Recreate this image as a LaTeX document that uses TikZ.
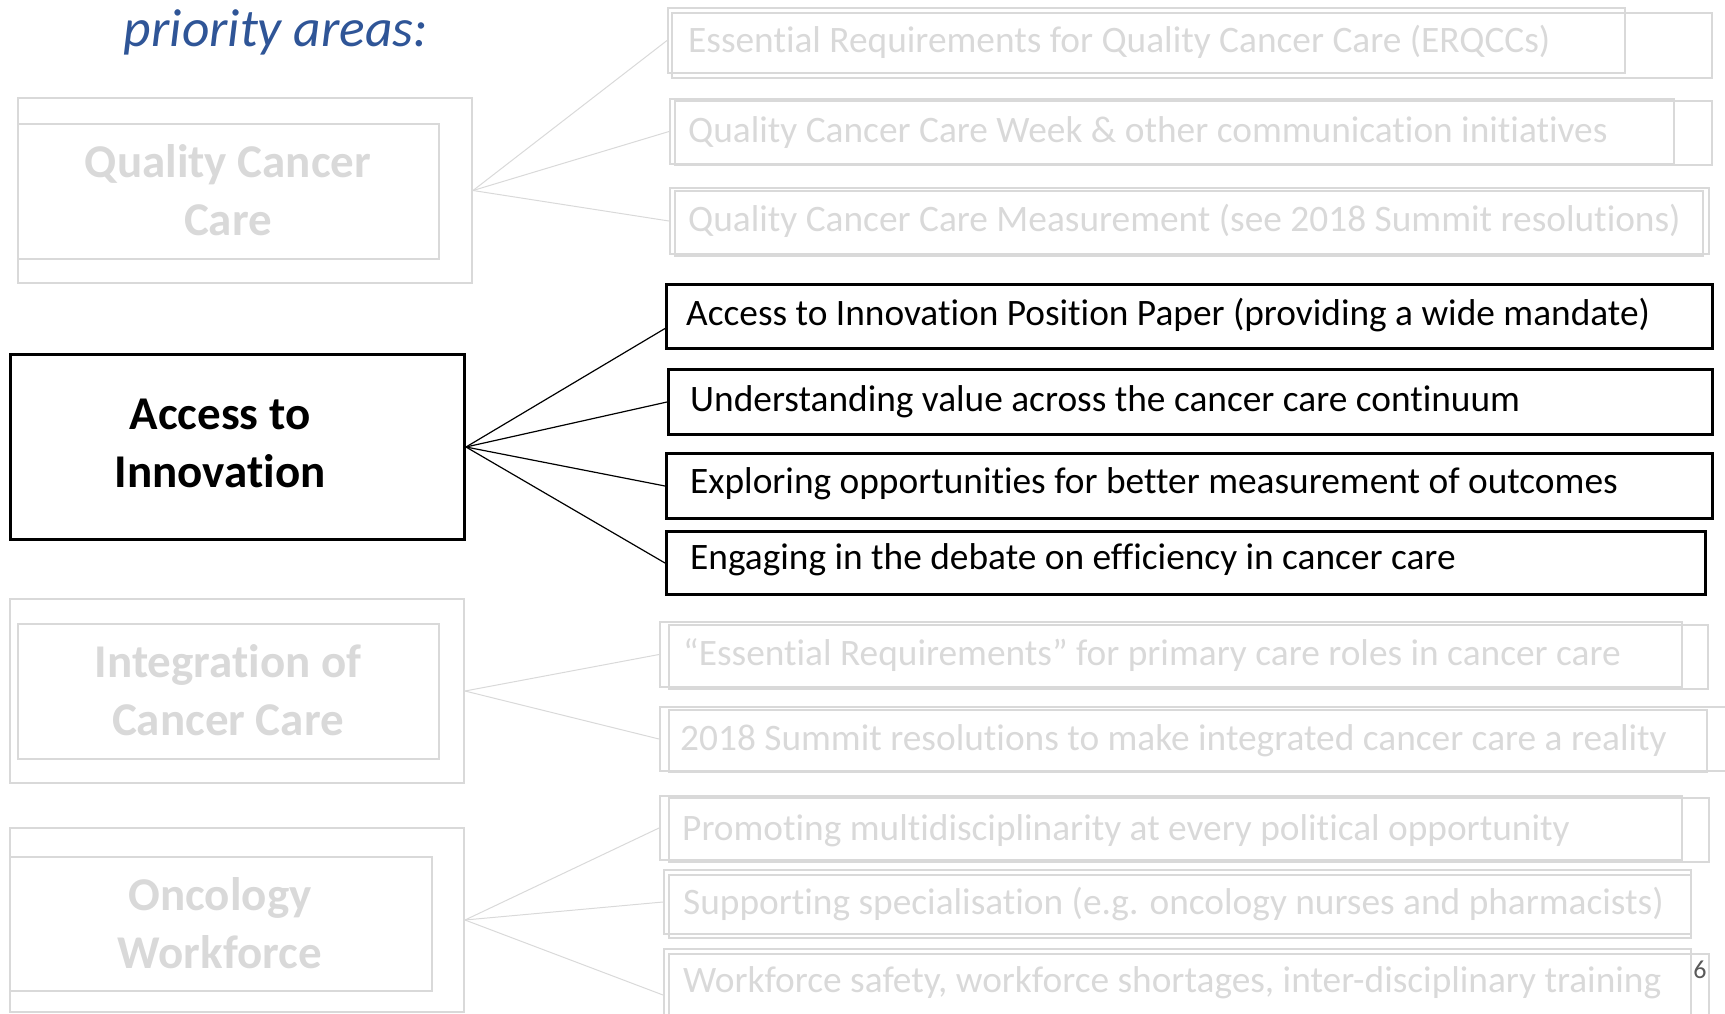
\documentclass[tikz,border=0pt]{standalone}
\usepackage{fontspec}
\setmainfont{Carlito}[Ligatures=NoCommon]
\definecolor{lg}{HTML}{D9D9D9}
\definecolor{pblue}{HTML}{2F5597}
\definecolor{pnum}{HTML}{595959}
\newcommand\mybox[6]{\node[#1, minimum width={#5-#3}, minimum height={#6-#4}] (#2) at (#3,#4) {};}
\begin{document}
\begin{tikzpicture}[x=1pt,y=-1pt,
  gbox/.style={draw=lg, line width=2pt, inner sep=0pt, anchor=north west},
  bbox/.style={draw=black, line width=3pt, inner sep=0pt, anchor=north west},
  itemtxt/.style={font=\fontsize{37.35}{44}\selectfont, anchor=base west, inner sep=0pt},
  gtxt/.style={itemtxt, text=lg},
  btxt/.style={itemtxt, text=black},
  titletxt/.style={font=\bfseries\fontsize{47}{58}\selectfont, align=center, anchor=base, inner sep=0pt},
  gline/.style={draw=lg, line width=1pt},
  bline/.style={draw=black, line width=1.2pt}]
\useasboundingbox (0,0) rectangle (1725,1013);
\clip (0,0) rectangle (1725,1013);

% heading
\node[font=\itshape\fontsize{53.5}{60}\selectfont, text=pblue, anchor=base, inner sep=0pt] (head) at (276,46) {priority areas:};

% left group boxes (title node anchor = baseline of last line)
\mybox{gbox}{qo}{16.5}{97}{471}{282}
\mybox{gbox}{qi}{16.5}{123}{438}{258}
\node[titletxt, text=lg] (qt) at (228,235) {Quality Cancer\\Care};

\mybox{bbox}{acc}{9}{353}{463}{538}
\node[titletxt, text=black] (at) at (220,487) {Access to\\Innovation};

\mybox{gbox}{io}{9}{598}{463}{782}
\mybox{gbox}{ii}{16.5}{623}{438}{758}
\node[titletxt, text=lg] (it) at (228,735) {Integration of\\Cancer Care};

\mybox{gbox}{oo}{9}{827}{463}{1011}
\mybox{gbox}{oi}{9}{856}{431}{990}
\node[titletxt, text=lg] (ot) at (220,968) {Oncology\\Workforce};

% quality cancer care items
\mybox{gbox}{q1a}{667}{7}{1624}{72}
\mybox{gbox}{q1b}{671}{12}{1711}{77}
\node[gtxt] (q1t) at (688,52) {Essential Requirements for Quality Cancer Care (ERQCCs)};
\mybox{gbox}{q2a}{669}{98}{1673}{163}
\mybox{gbox}{q2b}{674}{100}{1711}{164}
\node[gtxt] (q2t) at (688,142) {Quality Cancer Care Week \& other communication initiatives};
\mybox{gbox}{q3a}{669}{187}{1708}{253}
\mybox{gbox}{q3b}{674}{190}{1702}{255}
\node[gtxt] (q3t) at (688,231) {Quality Cancer Care Measurement (see 2018 Summit resolutions)};

% access to innovation items
\mybox{bbox}{b1}{665}{283}{1711}{347}
\node[btxt] (b1t) at (686,325) {Access to Innovation Position Paper (providing a wide mandate)};
\mybox{bbox}{b2}{667}{368}{1711}{433}
\node[btxt] (b2t) at (690,411) {Understanding value across the cancer care continuum};
\mybox{bbox}{b3}{665}{452}{1711}{517}
\node[btxt] (b3t) at (690,493) {Exploring opportunities for better measurement of outcomes};
\mybox{bbox}{b4}{665}{530}{1704}{593}
\node[btxt] (b4t) at (690,569) {Engaging in the debate on efficiency in cancer care};

% integration items
\mybox{gbox}{i1a}{659}{621}{1681}{686}
\mybox{gbox}{i1b}{668}{624}{1707}{688}
\node[gtxt] (i1t) at (683,665) {“Essential Requirements” for primary care roles in cancer care};
\mybox{gbox}{i2a}{659}{706}{1740}{770}
\mybox{gbox}{i2b}{668}{709}{1706}{771}
\node[gtxt] (i2t) at (680,750) {2018 Summit resolutions to make integrated cancer care a reality};

% workforce items
\mybox{gbox}{w1a}{659}{795}{1681}{859}
\mybox{gbox}{w1b}{668}{797}{1708}{861}
\node[gtxt] (w1t) at (682,840) {Promoting multidisciplinarity at every political opportunity};
\mybox{gbox}{w2a}{663}{869}{1690}{933}
\mybox{gbox}{w2b}{668}{874}{1690}{937}
\node[gtxt] (w2t) at (683,914) {Supporting specialisation (e.g. oncology nurses and pharmacists)};
\mybox{gbox}{w3a}{663}{948}{1690}{1034}
\mybox{gbox}{w3b}{668}{953}{1708}{1040}
\node[gtxt] (w3t) at (683,992) {Workforce safety, workforce shortages, inter-disciplinary training};

\node[font=\fontsize{26}{30}\selectfont, text=pnum, inner sep=0pt] (pg) at (1700,970) {6};

% connectors
\draw[gline] (qo.east) -- (q1a.west);
\draw[gline] (qo.east) -- (q2a.west);
\draw[gline] (qo.east) -- (q3a.west);
\draw[bline] (acc.east) -- ([yshift=-12pt]b1.west);
\draw[bline] (acc.east) -- (b2.west);
\draw[bline] (acc.east) -- (b3.west);
\draw[bline] (acc.east) -- (b4.west);
\draw[gline] (io.east) -- (i1a.west);
\draw[gline] (io.east) -- (i2a.west);
\draw[gline] (oo.east) -- (w1a.west);
\draw[gline] (oo.east) -- (w2a.west);
\draw[gline] (oo.east) -- ([yshift=-3pt]w3a.west);
\end{tikzpicture}
\end{document}
